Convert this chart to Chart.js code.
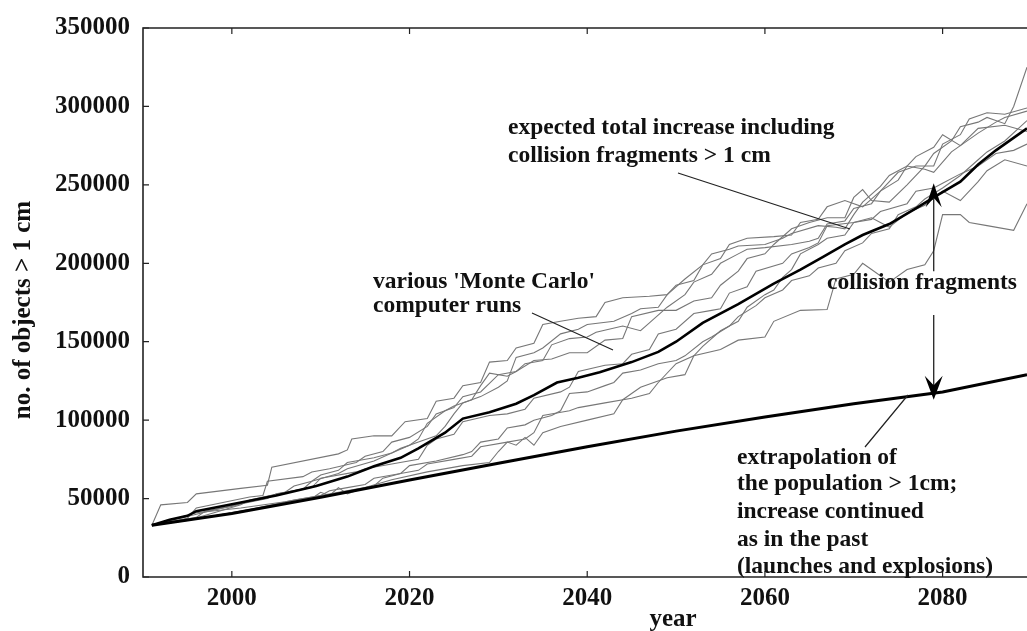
<!DOCTYPE html>
<html>
<head>
<meta charset="utf-8">
<title>Debris population projection</title>
<script src="https://cdn.jsdelivr.net/npm/chart.js@4.4.1/dist/chart.umd.min.js"></script>
<style>
  html, body { margin: 0; padding: 0; background: #fff; }
  #wrap { width: 1027px; height: 631px; }
</style>
</head>
<body>
<div id="wrap"><canvas id="chart" width="1027" height="631"></canvas></div>
<script>
// tick labels
const xTicks = [2000, 2020, 2040, 2060, 2080];
const yTicks = [0, 50000, 100000, 150000, 200000, 250000, 300000, 350000];

// extrapolation of the past trend (launches and explosions)
const extrapolation = [
  [1991, 33000], [2000, 40500], [2010, 50800], [2020, 61800], [2030, 72500],
  [2040, 83000], [2050, 93000], [2060, 102000], [2070, 110500], [2080, 118000], [2089.5, 129000]
];

// expected total increase including collision fragments
const meanRun = [
  [1991, 33000], [1993, 36500], [1995, 39000], [1996, 42000], [2001, 47500], [2005, 52000],
  [2009.5, 58000], [2013, 64000], [2016, 70600], [2019, 76000], [2021, 82000], [2024, 92000],
  [2026, 101000], [2029, 105000], [2032, 110500], [2034, 116000], [2036.6, 124000], [2039, 127000],
  [2041.4, 130500], [2045, 137000], [2048, 143500], [2050, 150000], [2053, 162000], [2057, 174000],
  [2061, 187000], [2064, 196000], [2066.5, 204000], [2069, 212000], [2071, 218000], [2074, 225000],
  [2077, 235000], [2079, 242000], [2082, 252000], [2084, 263000], [2086, 272000], [2089.5, 286000]
];

// 'Monte Carlo' computer runs
const run1 = [
  [1991, 33000], [1992, 46000], [1995, 47500], [1996, 53000], [2001, 56500], [2004, 58500],
  [2004.5, 70000], [2012, 78500], [2013, 81000], [2013.5, 88000], [2016, 90000], [2018, 90000],
  [2019.5, 99000], [2022, 101000], [2023, 112000], [2025, 114000], [2026, 122000], [2028, 124000],
  [2029, 137000], [2031, 138000], [2032, 146000], [2034, 149000], [2035, 161000], [2037, 163000],
  [2039, 165000], [2041, 166000], [2042, 175000], [2044, 178000], [2047, 179000], [2049, 180000],
  [2050, 186000], [2052, 189000], [2053, 199000], [2055, 203000], [2056, 212000], [2058, 216000],
  [2061, 217000], [2063, 218000], [2064, 226000], [2066, 228000], [2067, 236000], [2069, 240000],
  [2071, 236000], [2073, 246000], [2075, 258000], [2077, 262000], [2079, 262000], [2080, 276000],
  [2082, 282000], [2083, 292000], [2085, 296000], [2087, 295000], [2089.5, 299000]
];
const run2 = [
  [1991, 33000], [1996, 37000], [2000, 41000], [2005, 46000], [2009, 50000], [2010, 54000],
  [2011, 52000], [2012, 57000], [2013, 53000], [2015, 57000], [2018, 62000], [2022, 67000],
  [2026, 71000], [2029, 73000], [2030, 80000], [2031, 86000], [2032, 84000], [2033, 89000],
  [2034, 84000], [2035, 92000], [2037, 96000], [2040, 100000], [2043, 104000], [2044, 113000],
  [2046, 121000], [2049, 127000], [2051, 129000], [2052, 141000], [2055, 145000], [2057, 151000],
  [2060, 153000], [2061, 163000], [2064, 170000], [2067, 170500], [2068, 190000], [2070, 193000],
  [2071, 200000], [2072, 196000], [2074, 188000], [2076, 196000], [2078, 199000], [2079, 208000],
  [2080, 231000], [2082, 231000], [2083, 226000], [2085, 224000], [2088, 221000], [2089.5, 238000]
];
const run3 = [
  [1991, 33000], [1995, 37500], [1996, 44000], [2002, 51000], [2003.5, 52000], [2004, 61000],
  [2008, 64000], [2009, 67000], [2011, 69000], [2014, 73000], [2015, 77000], [2017, 80000],
  [2018, 86000], [2020, 89000], [2022, 96000], [2023, 104000], [2025, 108000], [2026, 115000],
  [2028, 118000], [2030, 129000], [2032, 131000], [2034, 138000], [2036, 139000], [2038, 143000],
  [2040, 143000], [2042, 151000], [2044, 152000], [2045, 166000], [2048, 170000], [2050, 170000],
  [2052, 176000], [2054, 178000], [2055, 186000], [2057, 195000], [2058, 203000], [2060, 206000],
  [2061, 212000], [2063, 222000], [2065, 226000], [2067, 229000], [2069, 229000], [2070, 242000],
  [2071, 247000], [2072, 240000], [2074, 239000], [2076, 250000], [2078, 262000], [2079, 270000],
  [2081, 278000], [2082, 287000], [2084, 290000], [2085, 293000], [2087, 289000], [2088, 300000],
  [2089.5, 325000]
];
const run4 = [
  [1991, 33000], [1996, 40000], [2000, 45500], [2004, 50000], [2005, 53000], [2009, 57000],
  [2010, 63000], [2014, 67000], [2015, 69000], [2018, 72000], [2021, 75000], [2022, 84000],
  [2023, 88000], [2025, 91000], [2026, 99000], [2029, 103000], [2031, 104000], [2033, 107000],
  [2034, 114000], [2037, 118000], [2038, 121000], [2039, 131000], [2042, 135000], [2044, 136000],
  [2045, 142000], [2047, 145000], [2048, 155000], [2050, 158000], [2052, 168000], [2054, 170000],
  [2055, 171000], [2056, 181000], [2058, 185000], [2059, 195000], [2062, 200000], [2063, 206000],
  [2065, 210000], [2066, 213000], [2067, 224000], [2070, 226000], [2072, 228000], [2073, 233000],
  [2076, 238000], [2077, 246000], [2079, 248000], [2080, 251000], [2082, 257000], [2084, 262000],
  [2086, 270000], [2088, 272000], [2089.5, 276000]
];
const run5 = [
  [1991, 33000], [1997, 38000], [2002, 43000], [2007, 49000], [2010, 52000], [2011, 55000],
  [2013, 57000], [2015, 59000], [2016, 63000], [2019, 66000], [2021, 68000], [2022, 72000],
  [2025, 75000], [2027, 77000], [2028, 83000], [2031, 86000], [2033, 88000], [2034, 92000],
  [2035, 103000], [2038, 106000], [2039, 108000], [2042, 111000], [2045, 114000], [2047, 117000],
  [2048, 124000], [2050, 136000], [2052, 141000], [2053, 147000], [2055, 157000], [2057, 163000],
  [2058, 172000], [2060, 180000], [2061, 183000], [2062, 191000], [2063, 196000], [2064, 206000],
  [2066, 212000], [2067, 216000], [2069, 218000], [2070, 226000], [2072, 229000], [2073, 226000],
  [2074, 223000], [2076, 232000], [2078, 237000], [2080, 246000], [2082, 240000], [2084, 252000],
  [2085, 259000], [2087, 266000], [2089.5, 262000]
];
const run6 = [
  [1991, 33000], [1995, 36000], [1998, 41000], [2001, 46000], [2002, 49000], [2006, 54000],
  [2008, 56000], [2009, 61000], [2012, 66000], [2013, 69000], [2016, 74000], [2018, 79000],
  [2020, 84000], [2021, 88000], [2022, 98000], [2024, 106000], [2025, 109000], [2027, 113000],
  [2028, 122000], [2029, 130000], [2031, 128000], [2032, 131000], [2033, 136000], [2035, 138000],
  [2036, 148000], [2038, 152000], [2040, 153000], [2041, 156000], [2044, 160000], [2046, 157000],
  [2047, 162000], [2049, 172000], [2051, 180000], [2052, 188000], [2054, 193000], [2055, 200000],
  [2057, 206000], [2058, 209000], [2060, 210000], [2063, 212000], [2065, 214000], [2066, 216000],
  [2067, 225000], [2069, 227000], [2070, 235000], [2072, 238000], [2073, 246000], [2075, 253000],
  [2076, 262000], [2077, 268000], [2079, 274000], [2080, 282000], [2082, 275000], [2084, 286000],
  [2087, 288000], [2089.5, 284000]
];
const run7 = [
  [1991, 33000], [1996, 41000], [2001, 44000], [2006, 48000], [2010, 52000], [2014, 56000],
  [2016, 58000], [2017, 63000], [2019, 66000], [2020, 71000], [2023, 74000], [2026, 78000],
  [2027, 80000], [2028, 86000], [2030, 88000], [2031, 95000], [2033, 97000], [2034, 100000],
  [2036, 103000], [2037, 106000], [2038, 117000], [2040, 118000], [2042, 122000], [2043, 124000],
  [2044, 130000], [2046, 132000], [2048, 136000], [2050, 138000], [2051, 141000], [2053, 150000],
  [2054, 153000], [2056, 160000], [2057, 166000], [2059, 173000], [2060, 178000], [2062, 183000],
  [2063, 189000], [2065, 192000], [2066, 197000], [2068, 200000], [2069, 208000], [2071, 213000],
  [2072, 219000], [2074, 222000], [2075, 231000], [2077, 236000], [2078, 241000], [2080, 248000],
  [2081, 252000], [2082, 256000], [2084, 266000], [2085, 271000], [2087, 278000], [2089.5, 291000]
];
const run8 = [
  [1991, 33000], [1993, 35000], [1996, 38000], [1997, 42000], [2000, 45000], [2003, 50000],
  [2006, 54000], [2007, 58000], [2009, 61000], [2010, 65000], [2012, 68000], [2013, 73000],
  [2016, 76000], [2018, 79000], [2019, 82000], [2021, 86000], [2023, 90000], [2024, 96000],
  [2025, 104000], [2026, 111000], [2028, 115000], [2030, 121000], [2031, 125000], [2032, 140000],
  [2034, 143000], [2035, 146000], [2037, 155000], [2039, 158000], [2040, 161000], [2043, 163000],
  [2045, 168000], [2046, 171000], [2048, 172000], [2049, 180000], [2051, 190000], [2053, 199000],
  [2054, 206000], [2056, 209000], [2057, 211000], [2060, 212000], [2062, 216000], [2063, 219000],
  [2066, 224000], [2068, 223000], [2069, 222000], [2070, 231000], [2071, 239000], [2073, 249000],
  [2074, 256000], [2076, 262000], [2078, 260000], [2079, 258000], [2081, 271000], [2083, 279000],
  [2084, 283000], [2086, 290000], [2087, 293000], [2089.5, 297000]
];
const monteCarloRuns = [run1, run2, run3, run4, run5, run6, run7, run8];

// arrows marking the collision fragments gap
const arrowYear = 2079;
const upArrow = [195000, 251000];
const downArrow = [167000, 113000];

const serif = '"Liberation Serif", "Times New Roman", Times, serif';
const ink = '#111';

function toPoints(pairs) {
  return pairs.map(p => ({ x: p[0], y: p[1] }));
}

const datasets = [
  {
    label: 'extrapolation',
    data: toPoints(extrapolation),
    borderColor: '#000',
    borderWidth: 3,
  },
  {
    label: 'expected',
    data: toPoints(meanRun),
    borderColor: '#000',
    borderWidth: 2.6,
  },
].concat(monteCarloRuns.map((r, i) => ({
  label: 'run ' + (i + 1),
  data: toPoints(r),
  borderColor: '#777',
  borderWidth: 1.1,
})));

function drawArrow(ctx, x, y0, y1, headLen, headW) {
  const dir = y1 < y0 ? -1 : 1;
  ctx.beginPath();
  ctx.moveTo(x, y0);
  ctx.lineTo(x, y1 - dir * headLen * 0.5);
  ctx.stroke();
  ctx.beginPath();
  ctx.moveTo(x, y1);
  ctx.lineTo(x - headW / 2, y1 - dir * headLen);
  ctx.lineTo(x, y1 - dir * headLen * 0.6);
  ctx.lineTo(x + headW / 2, y1 - dir * headLen);
  ctx.closePath();
  ctx.fill();
}

const notes = {
  id: 'notes',
  afterDraw(chart) {
    const { ctx, chartArea: a, scales: { x, y } } = chart;
    ctx.save();

    // frame and inward ticks
    ctx.strokeStyle = '#222';
    ctx.lineWidth = 1.6;
    ctx.beginPath();
    ctx.moveTo(a.right, a.top);
    ctx.lineTo(a.left, a.top);
    ctx.lineTo(a.left, a.bottom);
    ctx.lineTo(a.right, a.bottom);
    ctx.stroke();
    ctx.lineWidth = 1.2;
    ctx.beginPath();
    xTicks.forEach(v => {
      const px = x.getPixelForValue(v);
      ctx.moveTo(px, a.bottom); ctx.lineTo(px, a.bottom - 6);
      ctx.moveTo(px, a.top); ctx.lineTo(px, a.top + 6);
    });
    yTicks.forEach(v => {
      const py = y.getPixelForValue(v);
      ctx.moveTo(a.left, py); ctx.lineTo(a.left + 6, py);
    });
    ctx.stroke();

    // axis titles
    ctx.fillStyle = ink;
    ctx.font = 'bold 25px ' + serif;
    ctx.textAlign = 'center';
    ctx.textBaseline = 'middle';
    ctx.fillText('year', 673, 620);
    ctx.save();
    ctx.translate(24, 310);
    ctx.rotate(-Math.PI / 2);
    ctx.fillText('no. of objects > 1 cm', 0, 0);
    ctx.restore();

    // annotation texts
    ctx.font = 'bold 23.5px ' + serif;
    ctx.textAlign = 'left';
    const lines = [
      ['expected total increase including', 508, 128],
      ['collision fragments > 1 cm', 508, 156],
      ["various 'Monte Carlo'", 373, 282],
      ['computer runs', 373, 306],
      ['collision fragments', 827, 283],
      ['extrapolation of', 737, 458],
      ['the population > 1cm;', 737, 484],
      ['increase continued', 737, 512],
      ['as in the past', 737, 540],
      ['(launches and explosions)', 737, 567],
    ];
    lines.forEach(l => ctx.fillText(l[0], l[1], l[2]));

    // leader lines
    ctx.strokeStyle = '#222';
    ctx.lineWidth = 1.2;
    ctx.beginPath();
    ctx.moveTo(678, 173); ctx.lineTo(850, 229);
    ctx.moveTo(532, 313); ctx.lineTo(613, 350);
    ctx.moveTo(865, 447); ctx.lineTo(908, 395);
    ctx.stroke();

    // arrows
    const ax = x.getPixelForValue(arrowYear);
    ctx.fillStyle = '#000';
    ctx.lineWidth = 1.3;
    drawArrow(ctx, ax, y.getPixelForValue(upArrow[0]), y.getPixelForValue(upArrow[1]), 24, 16);
    drawArrow(ctx, ax, y.getPixelForValue(downArrow[0]), y.getPixelForValue(downArrow[1]), 24, 18);

    ctx.restore();
  }
};

new Chart(document.getElementById('chart'), {
  type: 'line',
  data: { datasets },
  options: {
    responsive: false,
    animation: false,
    layout: { padding: { top: 22, right: 0, bottom: 0, left: 0 } },
    elements: { point: { radius: 0 }, line: { tension: 0 } },
    plugins: { legend: { display: false }, tooltip: { enabled: false } },
    scales: {
      x: {
        type: 'linear',
        min: 1990,
        max: 2089.5,
        afterBuildTicks: s => { s.ticks = xTicks.map(v => ({ value: v })); },
        afterFit: s => { s.height = 54; },
        grid: { display: false, drawTicks: false },
        border: { display: false },
        ticks: {
          color: ink,
          padding: 7,
          maxRotation: 0,
          autoSkip: false,
          font: { family: serif, size: 25, weight: 'bold' },
          callback: v => String(v),
        },
      },
      y: {
        type: 'linear',
        min: 0,
        max: 350000,
        afterBuildTicks: s => { s.ticks = yTicks.map(v => ({ value: v })); },
        afterFit: s => { s.width = 143; },
        grid: { display: false, drawTicks: false },
        border: { display: false },
        ticks: {
          color: ink,
          padding: 13,
          autoSkip: false,
          font: { family: serif, size: 25, weight: 'bold' },
          callback: v => String(v),
        },
      },
    },
  },
  plugins: [notes],
});
</script>
</body>
</html>
